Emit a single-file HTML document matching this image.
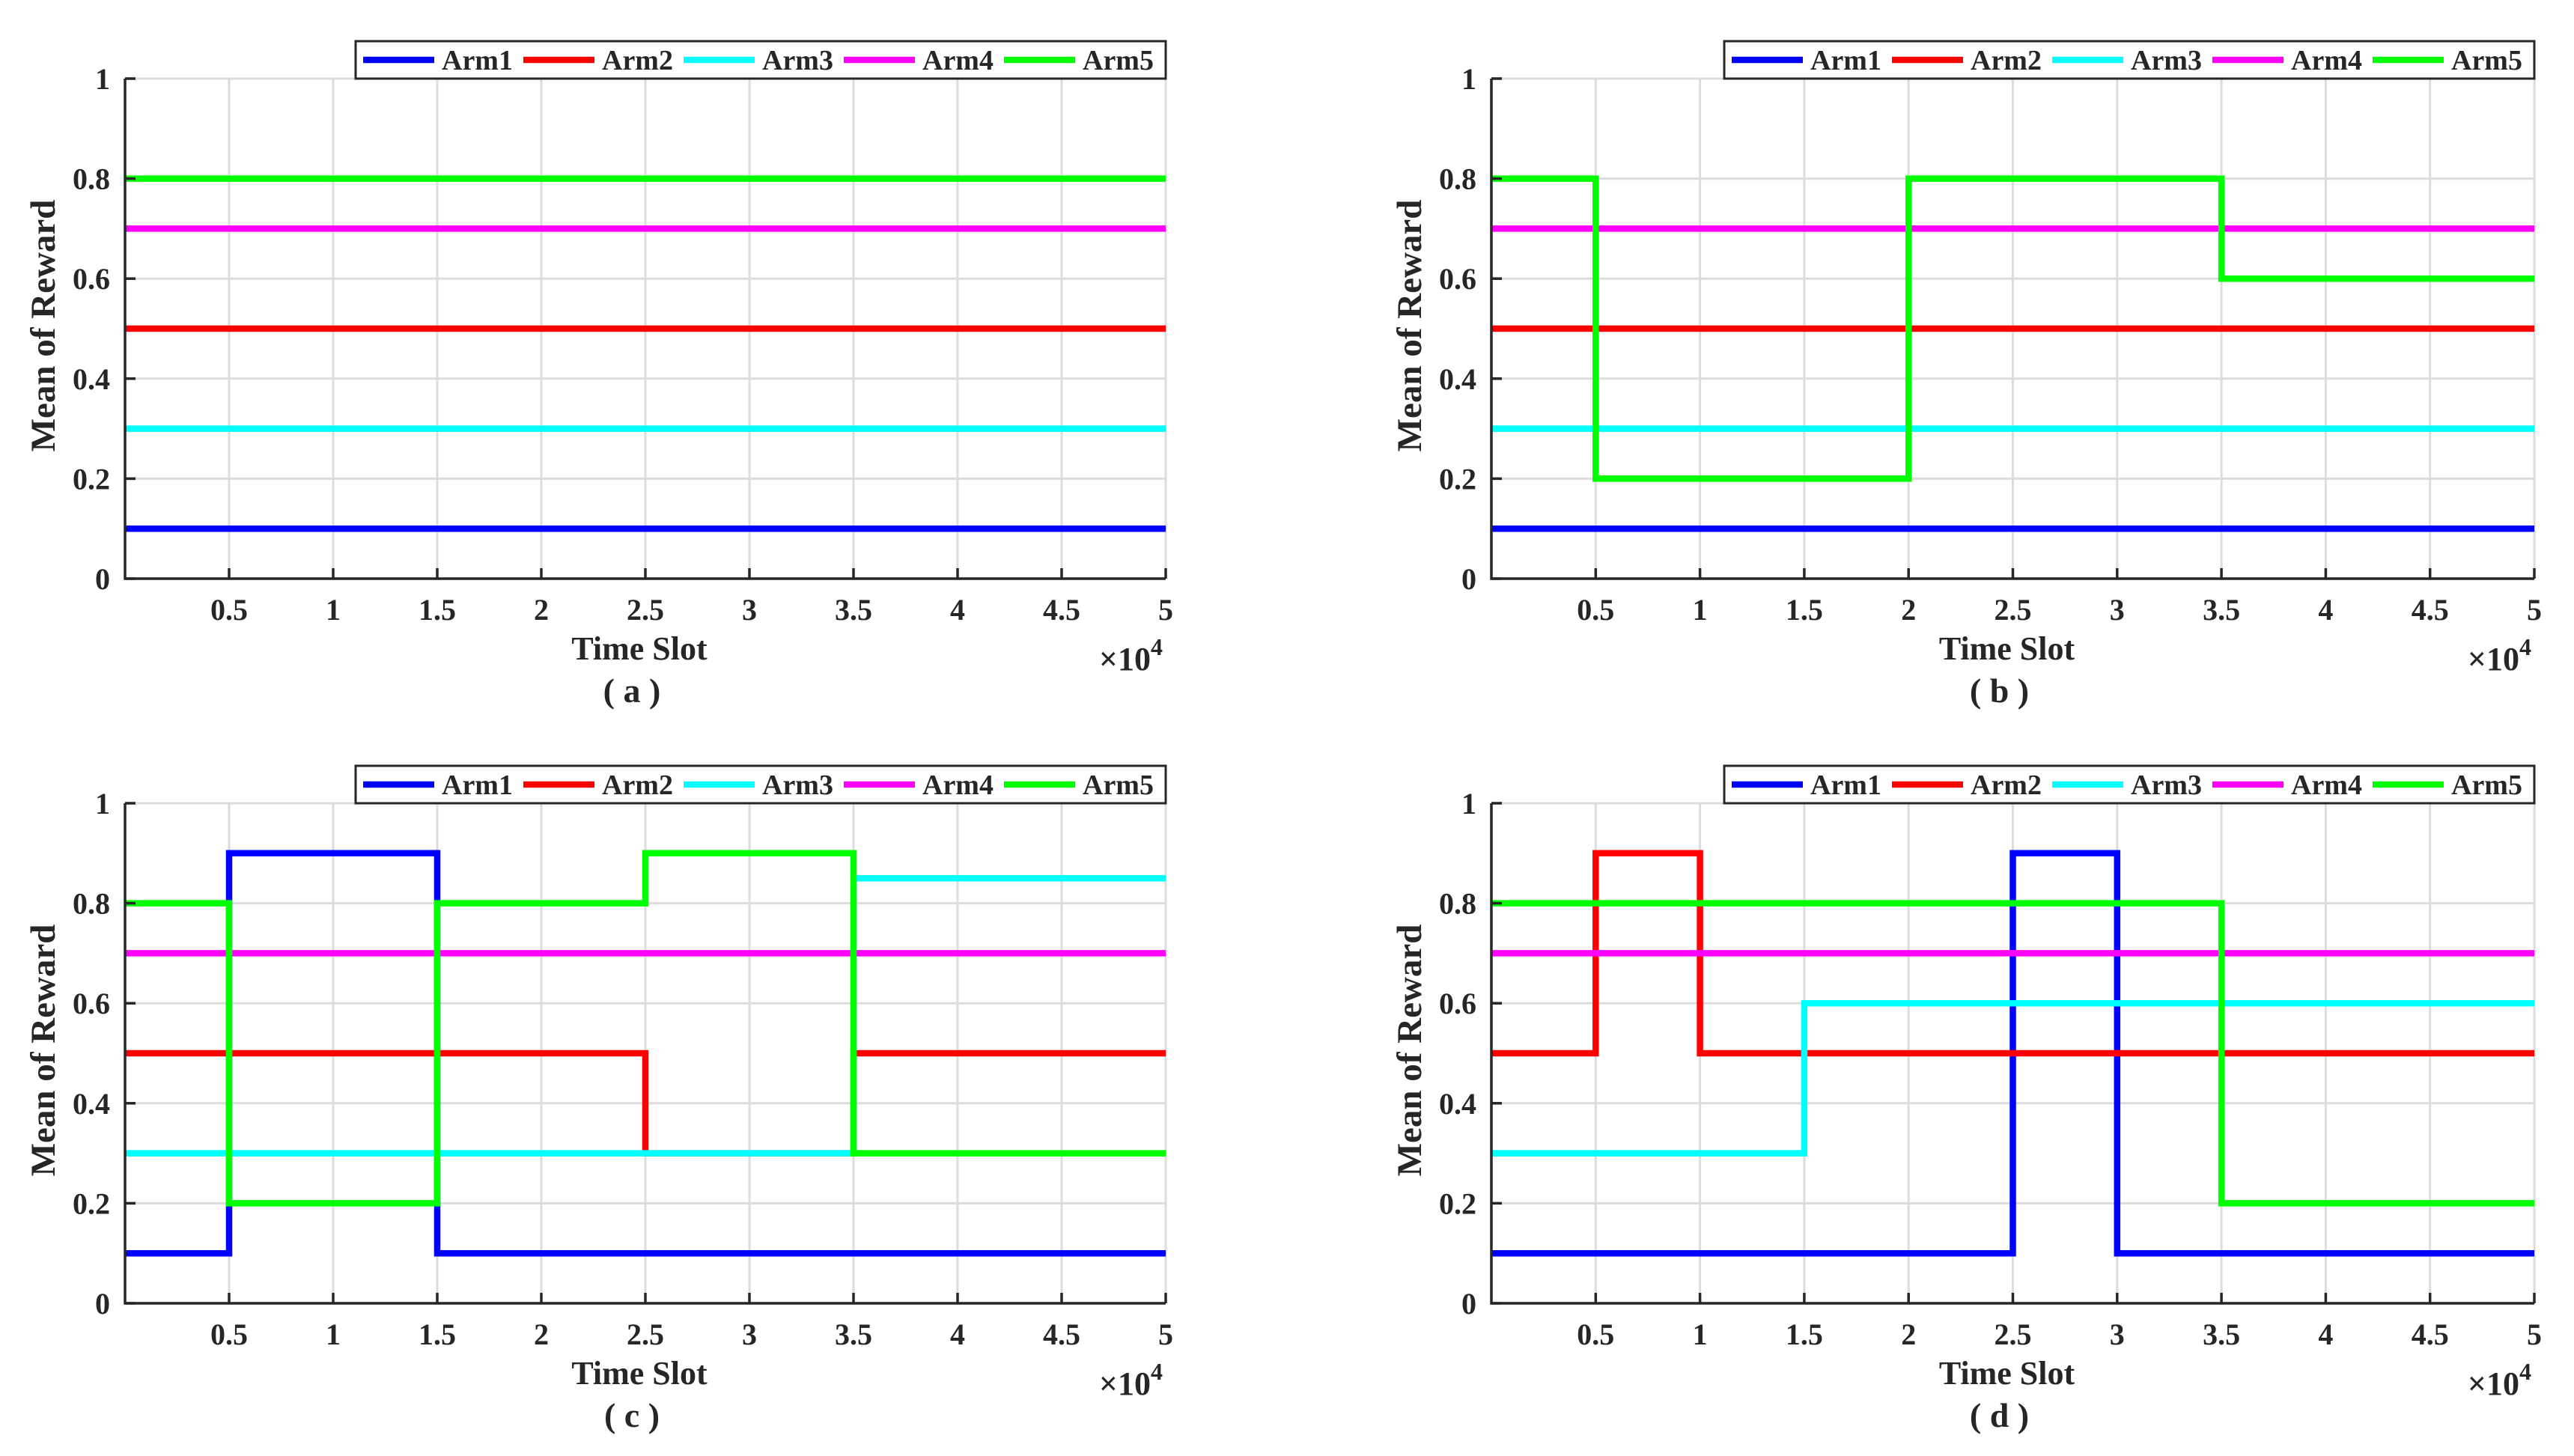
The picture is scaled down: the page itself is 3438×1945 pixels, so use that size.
<!DOCTYPE html>
<html><head><meta charset="utf-8">
<style>
html,body{margin:0;padding:0;background:#fff;}
svg{display:block;}
text{font-family:"Liberation Serif",serif;font-weight:bold;fill:#262626;}
</style></head>
<body>
<svg id="fig" width="3438" height="1945" viewBox="0 0 3438 1945" xmlns="http://www.w3.org/2000/svg"></svg>
<script>
// ---- data ----
const armNames = ["Arm1","Arm2","Arm3","Arm4","Arm5"];
const armColors = ["#0000ff","#ff0000","#00ffff","#ff00ff","#00ff00"];
const xTicks = [0.5,1,1.5,2,2.5,3,3.5,4,4.5,5];
const xTickLabels = ["0.5","1","1.5","2","2.5","3","3.5","4","4.5","5"];
const yTicks = [0,0.2,0.4,0.6,0.8,1];
const yTickLabels = ["0","0.2","0.4","0.6","0.8","1"];
// each series: breakpoints (x in 1e4) and level for each segment
const aBreaks = [[0,5],[0,5],[0,5],[0,5],[0,5]];
const aLevels = [[0.1],[0.5],[0.3],[0.7],[0.8]];
const bBreaks = [[0,5],[0,5],[0,5],[0,5],[0,0.5,2,3.5,5]];
const bLevels = [[0.1],[0.5],[0.3],[0.7],[0.8,0.2,0.8,0.6]];
const cBreaks = [[0,0.5,1.5,5],[0,2.5,3.5,5],[0,3.5,5],[0,5],[0,0.5,1.5,2.5,3.5,5]];
const cLevels = [[0.1,0.9,0.1],[0.5,0.3,0.5],[0.3,0.85],[0.7],[0.8,0.2,0.8,0.9,0.3]];
const dBreaks = [[0,2.5,3,5],[0,0.5,1,5],[0,1.5,5],[0,5],[0,3.5,5]];
const dLevels = [[0.1,0.9,0.1],[0.5,0.9,0.5],[0.3,0.6],[0.7],[0.8,0.2]];

const NS="http://www.w3.org/2000/svg";
const svg=document.getElementById('fig');
function mk(tag,attrs,parent){const e=document.createElementNS(NS,tag);for(const k in attrs)e.setAttribute(k,attrs[k]);(parent||svg).appendChild(e);return e;}

const panels=[
 {id:"a",L:167,R:1557,T:105,B:773,breaks:aBreaks,levels:aLevels},
 {id:"b",L:1992,R:3385,T:105,B:773,breaks:bBreaks,levels:bLevels},
 {id:"c",L:167,R:1557,T:1073,B:1741,breaks:cBreaks,levels:cLevels},
 {id:"d",L:1992,R:3385,T:1073,B:1741,breaks:dBreaks,levels:dLevels}
];

panels.forEach(p=>{
  const g=mk('g',{});
  
  
  const xs=v=>p.L+(v/5)*(p.R-p.L);
  const ys=v=>p.B-v*(p.B-p.T);
  xTicks.forEach(t=>{const l=mk('line',{x1:xs(t),x2:xs(t),y1:p.T,y2:p.B,stroke:"#dcdcdc","stroke-width":3},g);
    
    });
  yTicks.forEach(t=>{const l=mk('line',{x1:p.L,x2:p.R,y1:ys(t),y2:ys(t),stroke:"#dcdcdc","stroke-width":3},g);
    
    });
  p.breaks.forEach((br,i)=>{
    let d="";
    for(let k=0;k<p.levels[i].length;k++){
      const y=ys(p.levels[i][k]);
      d+=(k===0?"M":"L")+xs(br[k])+","+y+" L"+xs(br[k+1])+","+y+" ";
    }
    const path=mk('path',{d:d,fill:"none",stroke:armColors[i],"stroke-width":8.5,"stroke-linejoin":"miter"},g);
    
    
  });
  const ax=mk('path',{d:`M${p.L},${p.T} L${p.L},${p.B} L${p.R},${p.B}`,fill:"none",stroke:"#262626","stroke-width":3.5},g);
  
  
  xTicks.forEach((t,i)=>{
    mk('line',{x1:xs(t),x2:xs(t),y1:p.B,y2:p.B-14,stroke:"#262626","stroke-width":3.5},g);
    const tx=mk('text',{x:xs(t),y:p.B+55,"font-size":40,"text-anchor":"middle"},g);
    tx.textContent=xTickLabels[i];
    
    
  });
  yTicks.forEach((t,i)=>{
    mk('line',{x1:p.L,x2:p.L+14,y1:ys(t),y2:ys(t),stroke:"#262626","stroke-width":3.5},g);
    const tx=mk('text',{x:p.L-20,y:ys(t)+14,"font-size":40,"text-anchor":"end"},g);
    tx.textContent=yTickLabels[i];
    
    
  });
  const cx=(p.L+p.R)/2;
  const xl=mk('text',{x:cx-8,y:p.B+108,"font-size":44,"text-anchor":"middle"},g);
  xl.textContent="Time Slot";
  
  
  const ex=mk('text',{x:p.R-4,y:p.B+122,"font-size":44,"text-anchor":"end"},g);
  ex.innerHTML='×10<tspan font-size="32" dy="-20">4</tspan>';
  
  
  const cap=mk('text',{x:cx-18,y:p.B+165,"font-size":46,"text-anchor":"middle"},g);
  cap.textContent="( "+p.id+" )";
  
  
  const yl=mk('text',{x:0,y:0,"font-size":47,"text-anchor":"middle",transform:`translate(${p.L-94},${(p.T+p.B)/2-4}) rotate(-90)`},g);
  yl.textContent="Mean of Reward";
  
  
  const lw=1082,lh=50,lx=p.R-lw,ly=p.T-lh;
  const lg=mk('g',{},g);
  
  
  mk('rect',{x:lx,y:ly,width:lw,height:lh,fill:"#fff",stroke:"#262626","stroke-width":3},lg);
  armNames.forEach((n,i)=>{
    const ex0=lx+10+i*214;
    const e=mk('g',{},lg);
    
    
    mk('line',{x1:ex0,x2:ex0+95,y1:ly+lh/2,y2:ly+lh/2,stroke:armColors[i],"stroke-width":8.5},e);
    const t=mk('text',{x:ex0+105,y:ly+lh/2+13,"font-size":38,fill:"#000"},e);
    t.textContent=n;
  });
});
</script>
</body></html>
